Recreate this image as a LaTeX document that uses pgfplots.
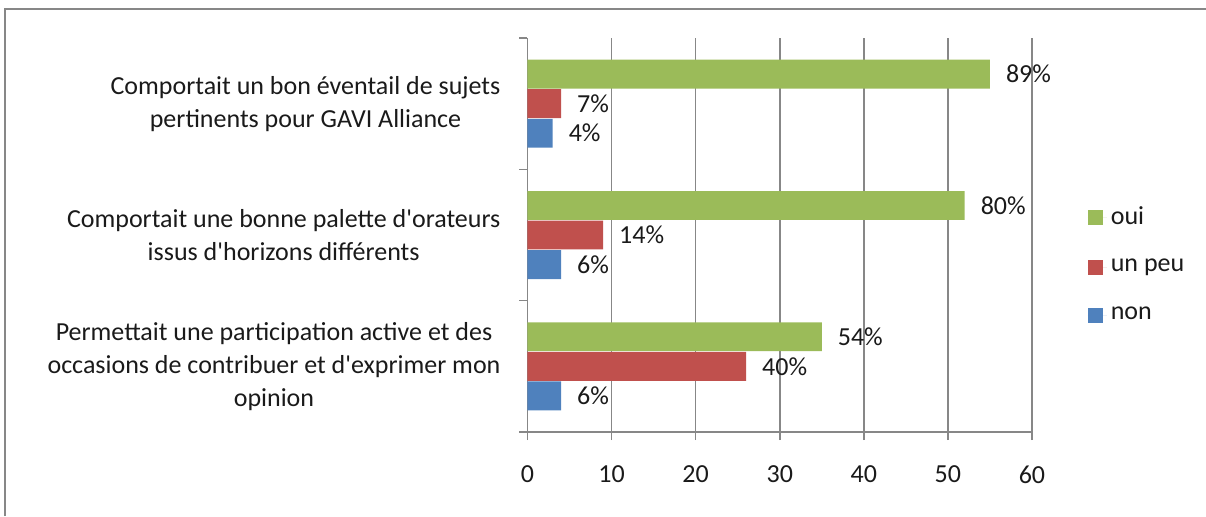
\documentclass[border=0pt]{standalone}
\usepackage{fontspec}
\setmainfont{Carlito}
\usepackage{pgfplots}
\pgfplotsset{compat=1.18}
\definecolor{cOui}{HTML}{9BBB59}
\definecolor{cPeu}{HTML}{C0504D}
\definecolor{cNon}{HTML}{4F81BD}
\definecolor{axgray}{HTML}{878787}
\definecolor{txt}{HTML}{1A1A1A}
\begin{document}
\fontsize{13pt}{16.5pt}\selectfont
\begin{tikzpicture}
\useasboundingbox (0,0) rectangle (603pt,258pt);
\draw[axgray, line width=1pt] (2.5pt,0) -- (2.5pt,253.5pt) -- (603pt,253.5pt);
\begin{axis}[
  at={(263.75pt,42pt)}, anchor=south west,
  scale only axis, width=252.25pt, height=197pt,
  xbar, bar width=0.22,
  xmin=0, xmax=60, xtick={0,10,...,60},
  ymin=-0.5, ymax=2.5, y dir=reverse,
  ytick={-0.5,0.5,1.5,2.5}, yticklabels={},
  extra y ticks={0,1,2},
  extra y tick labels={{Comportait un bon éventail de sujets\\pertinents pour GAVI Alliance},
    {Comportait une bonne palette d\textquotesingle orateurs\\issus d\textquotesingle horizons différents},
    {Permettait une participation active et des\\occasions de contribuer et d\textquotesingle exprimer mon\\opinion}},
  extra y tick style={major tick length=0pt, yticklabel style={align=center, xshift=-9pt}},
  axis x line*=bottom, axis y line*=left,
  axis line style={axgray, line width=0.8pt},
  tick align=outside, major tick length=4pt,
  tick style={axgray, line width=0.8pt},
  xmajorgrids, grid style={axgray, line width=0.8pt},
  /pgf/number format/assume math mode=true,
  ticklabel style={font=\fontsize{13pt}{16.5pt}\selectfont, text=txt},
  xticklabel style={yshift=-8.5pt},
  point meta=explicit symbolic,
  nodes near coords,
  every node near coord/.append style={anchor=west, xshift=3.5pt, text=txt, font=\fontsize{13pt}{16.5pt}\selectfont},
  legend style={draw=none, fill=none, at={(1.098,0.424)}, anchor=west,
    row sep=11.5pt, font=\fontsize{13pt}{16.5pt}\selectfont, text=txt},
  legend cell align=left,
  legend image code/.code={\fill[#1] (0pt,-3.75pt) rectangle (7.5pt,3.75pt); \path (0pt,0pt) -- (9.5pt,0pt);},
  clip=false,
]
\addplot[fill=cOui, draw=none, bar shift=-0.225] coordinates {(55,0) [89\%] (52,1) [80\%] (35,2) [54\%]};
\addplot[fill=cPeu, draw=none, bar shift=0] coordinates {(4,0) [7\%] (9,1) [14\%] (26,2) [40\%]};
\addplot[fill=cNon, draw=none, bar shift=0.225] coordinates {(3,0) [4\%] (4,1) [6\%] (4,2) [6\%]};
\legend{oui, un peu, non}
\end{axis}
\end{tikzpicture}
\end{document}
